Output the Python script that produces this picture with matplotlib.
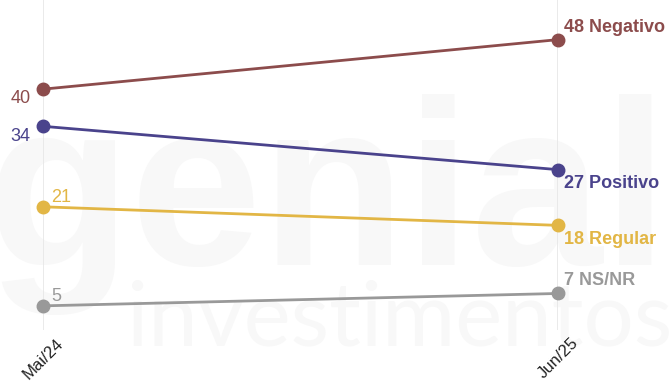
import matplotlib
matplotlib.use("Agg")
import matplotlib.pyplot as plt

periods = ["Mai/24", "Jun/25"]
categories = ["Negativo", "Positivo", "Regular", "NS/NR"]
start_values = [40, 34, 21, 5]
end_values = [48, 27, 18, 7]
colors = ["#8c4c4c", "#4a438c", "#e2b645", "#999999"]

# label placement (offsets in points): left labels, right labels
left_offsets = [(-9, -7, "right"), (-9, -7, "right"), (6, 7, "left"), (6, 7, "left")]
right_offsets = [(4, 9, "left"), (4, -10, "left"), (4, -10, "left"), (4, 9, "left")]

plt.rcParams["font.family"] = ["Liberation Sans", "DejaVu Sans"]

fig = plt.figure(figsize=(6.71, 3.86), dpi=100)
ax = fig.add_axes([43 / 671, 56 / 386, 515 / 671, 330 / 386])

# faint watermark, kept behind everything
ax.text(0.19, 0.17, "investimentos", fontsize=64, color="#f8f8f8",
        fontfamily=["Lato", "DejaVu Sans"], fontweight="normal",
        ha="left", va="center", zorder=0,
        transform=fig.transFigure, clip_on=False)
ax.text(-0.02, 0.47, "genial", fontsize=170, color="#f8f8f8",
        fontweight="bold", ha="left", va="center", zorder=0,
        transform=fig.transFigure, clip_on=False)

x = [0, 1]
for i, cat in enumerate(categories):
    ys = [start_values[i], end_values[i]]
    ax.plot(x, ys, color=colors[i], lw=2, marker="o", ms=9, clip_on=False, zorder=3)
    dx, dy, ha = left_offsets[i]
    ax.annotate(str(start_values[i]), (0, start_values[i]), xytext=(dx, dy),
                textcoords="offset points", ha=ha, va="center",
                fontsize=13, color=colors[i], zorder=4)
    dx, dy, ha = right_offsets[i]
    ax.annotate(f"{end_values[i]} {cat}", (1, end_values[i]), xytext=(dx, dy),
                textcoords="offset points", ha=ha, va="center",
                fontsize=13, fontweight="bold", color=colors[i], zorder=4)

ax.set_xlim(0, 1)
ax.set_ylim(1.1, 54.4)
ax.set_xticks(x)
ax.set_xticklabels(periods, rotation=45, ha="center", fontsize=12, color="#222222")
ax.tick_params(axis="x", length=0, pad=4)
ax.set_yticks([])
ax.grid(axis="x", color="#e6e6e6", lw=1.2, zorder=1)
ax.set_axisbelow(True)
for s in ax.spines.values():
    s.set_visible(False)
ax.patch.set_alpha(0)

fig.savefig("out.png", dpi=100)
